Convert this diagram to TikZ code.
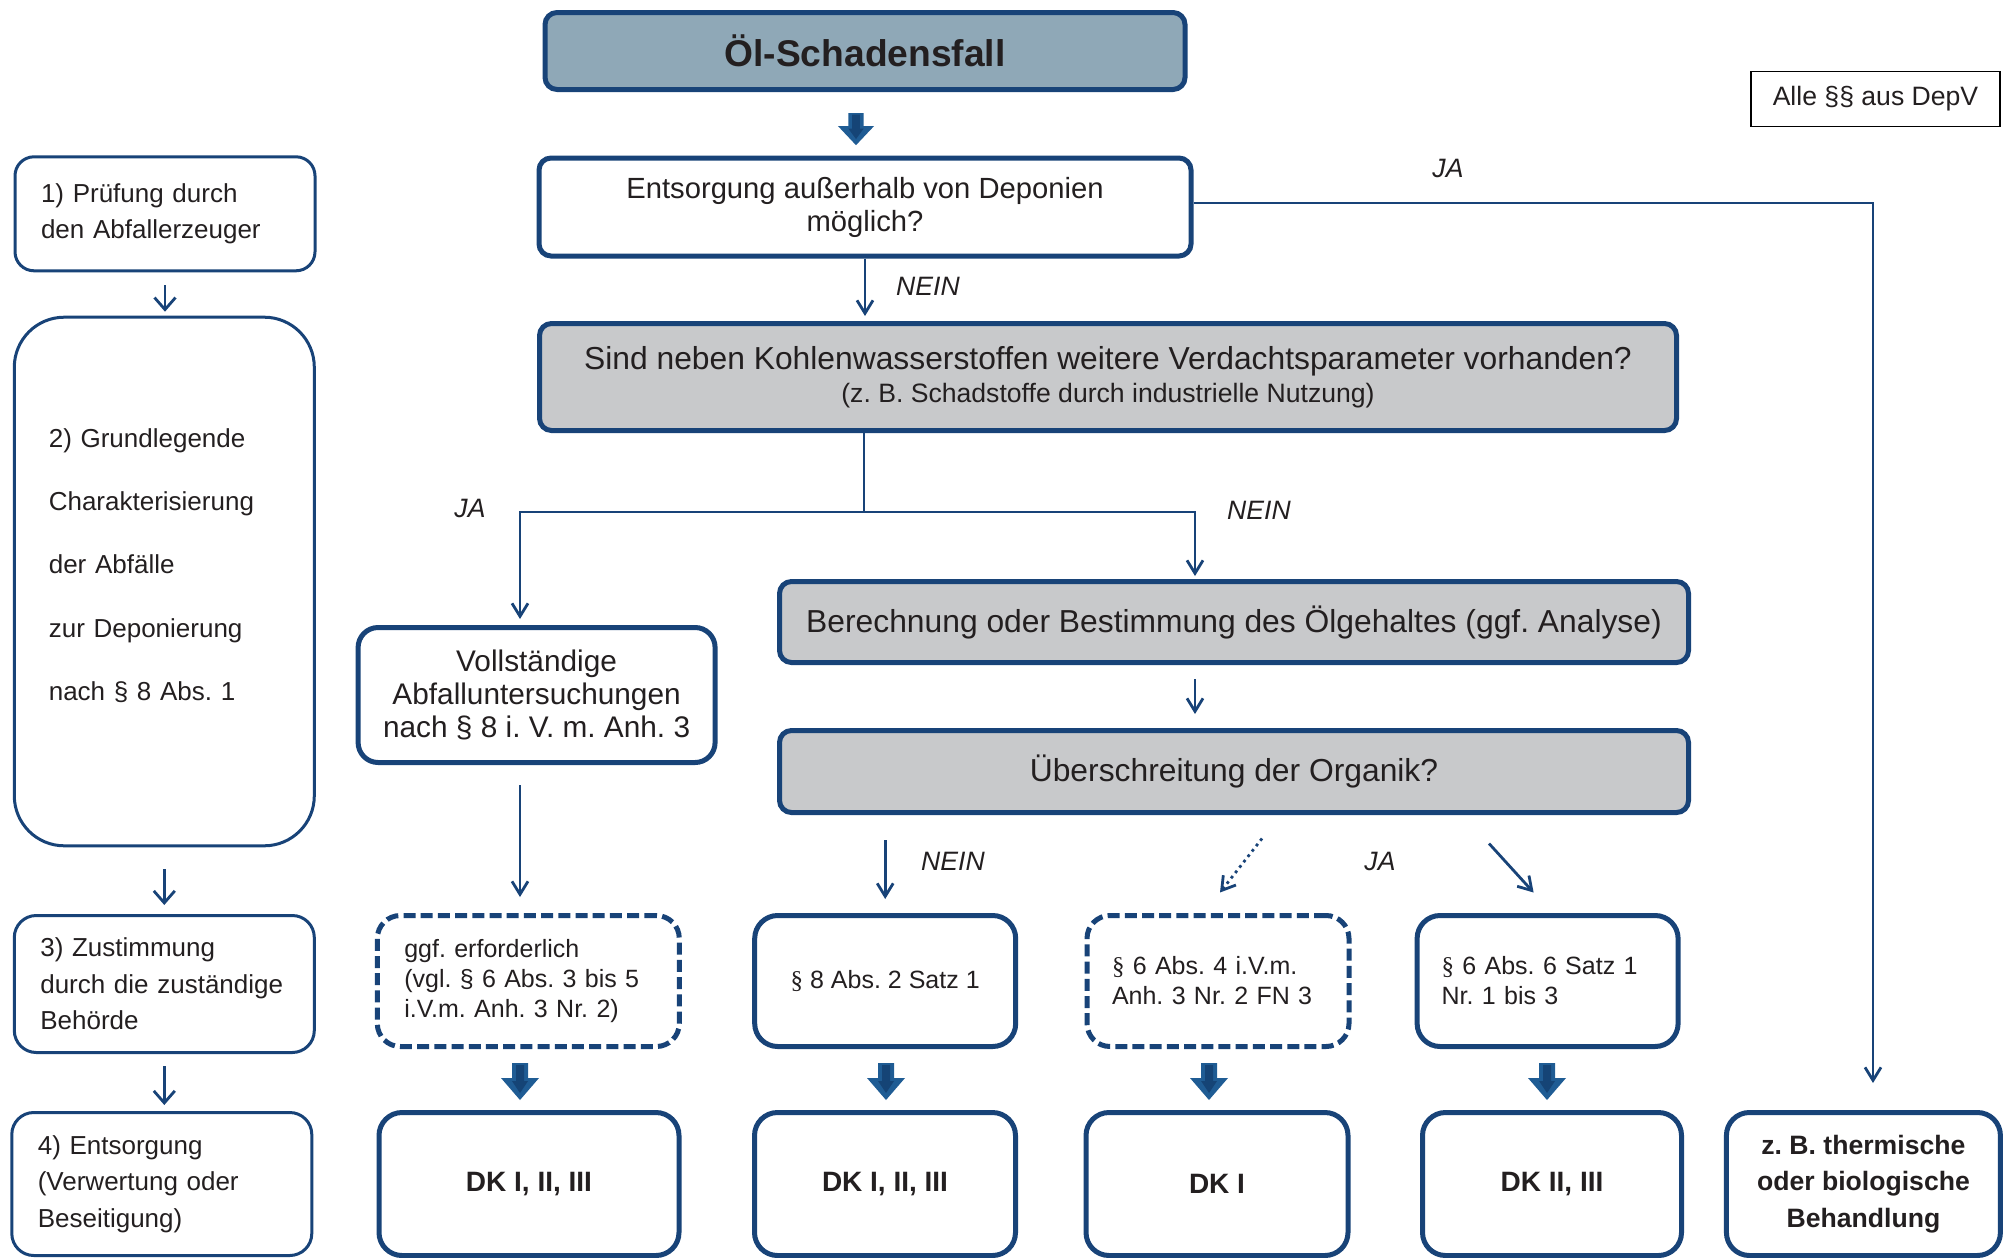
\documentclass[tikz,border=0pt]{standalone}
\usepackage{fontspec}
\setmainfont{Liberation Sans}
\newfontfamily\parafont{Liberation Serif}
\usetikzlibrary{arrows.meta,calc}

\definecolor{rand}{RGB}{24,67,120}
\definecolor{kopfgrau}{RGB}{143,168,183}
\definecolor{hellgrau}{RGB}{200,201,203}
\definecolor{schrift}{RGB}{35,31,32}
\definecolor{pfeilhell}{RGB}{31,92,148}
\definecolor{pfeildunkel}{RGB}{21,68,118}

\newcommand{\parsym}{{\parafont\S}}

\tikzset{
  box/.style={draw=rand, line width=2.5pt, rounded corners=6pt, align=center,
    inner sep=0pt, text=schrift},
  kopfbox/.style={box, fill=kopfgrau, font=\fontsize{18.6}{22}\selectfont\bfseries},
  fragebox/.style={box, font=\fontsize{14.6}{16.5}\selectfont},
  graubox/.style={box, fill=hellgrau, minimum width=454.5pt,
    font=\fontsize{15.9}{16.5}\selectfont},
  regelbox/.style={box, rounded corners=11.5pt, minimum width=130.5pt,
    minimum height=65.5pt, font=\fontsize{12.5}{15}\selectfont},
  optbox/.style={regelbox, dash pattern=on 6pt off 2.6pt},
  dkbox/.style={box, rounded corners=11.5pt, minimum width=130.5pt,
    minimum height=71.5pt, font=\fontsize{14}{17}\selectfont\bfseries},
  linksbox/.style={draw=rand, line width=1.5pt, minimum width=150pt, inner sep=0pt,
    text width=124pt, align=left, text=schrift, font=\fontsize{13}{18.3}\selectfont},
  antwort/.style={text=schrift, font=\fontsize{13.3}{16}\selectfont\itshape},
  verbinder/.style={draw=rand, line width=1.4pt, -{Straight Barb[length=6.5pt,width=8pt]}},
  linkspfeil/.style={draw=rand, line width=1.4pt, -{Straight Barb[length=6pt,width=10.5pt]}},
  dickpfeil/.pic={
    \fill[pfeilhell] (-8,0) -- (8,0) -- (8,15) -- (19,15) -- (0,37)
      -- (-19,15) -- (-8,15) -- cycle;
    \fill[pfeildunkel] (-4,2) -- (4,2) -- (4,18) -- (8,18) -- (0,30)
      -- (-8,18) -- (-4,18) -- cycle;
  }
}

\begin{document}
\frenchspacing
\begin{tikzpicture}[x=0.5pt, y=-0.5pt]
\useasboundingbox (0,0) rectangle (2013,1258);

% Hauptspalte
\node[kopfbox, minimum width=320pt, minimum height=38.5pt] (oel) at (865,51) {Öl-Schadensfall};
\node[fragebox, minimum width=326pt, minimum height=49pt] (entsorg) at (865,207)
  {Entsorgung außerhalb von Deponien\\möglich?};
\node[draw=black, line width=0.7pt, minimum width=124.5pt, minimum height=27.5pt,
  text=schrift, font=\fontsize{13.3}{16}\selectfont] (alle) at (1875.5,99) {Alle §§ aus DepV};
\node[graubox, minimum width=568.5pt, minimum height=53.5pt] (sind) at (1108,377)
  {Sind neben Kohlenwasserstoffen weitere Verdachtsparameter vorhanden?\\
   {\fontsize{13.3}{16}\selectfont(z. B. Schadstoffe durch industrielle Nutzung)}};
\node[box, minimum width=178.5pt, minimum height=67.5pt, rounded corners=10pt,
  font=\fontsize{14.9}{16.7}\selectfont] (voll) at (536.6,695)
  {Vollständige\\Abfalluntersuchungen\\nach § 8 i. V. m. Anh. 3};
\node[graubox, minimum height=40.5pt] (berech) at (1234,622)
  {Berechnung oder Bestimmung des Ölgehaltes (ggf. Analyse)};
\node[graubox, minimum height=41pt] (ueber) at (1234,771.5) {Überschreitung der Organik?};

% Regeln
\node[optbox, minimum width=151pt, text width=124pt, align=left] (ggf) at (528.3,981)
  {ggf. erforderlich\\(vgl. § 6 Abs. 3 bis 5\\i.V.m. Anh. 3 Nr. 2)};
\node[regelbox] (satz1) at (885.2,981) {\parsym\ 8 Abs. 2 Satz 1};
\node[optbox, minimum width=131pt, text width=106pt, align=left] (fn3) at (1218,981)
  {\parsym\ 6 Abs. 4 i.V.m.\\Anh. 3 Nr. 2 FN 3};
\node[regelbox, text width=106pt, align=left] (abs6) at (1547.6,981)
  {\parsym\ 6 Abs. 6 Satz 1\\Nr. 1 bis 3};

% Deponieklassen
\node[dkbox, minimum width=150pt] (dkalle) at (529,1184) {DK I, II, III};
\node[dkbox] (dkalleb) at (885,1184) {DK I, II, III};
\node[dkbox, minimum width=131pt] (dkeins) at (1217,1184) {DK I};
\node[dkbox, minimum width=129.5pt] (dkzwei) at (1552,1184) {DK II, III};
\node[dkbox, minimum width=137pt, font=\fontsize{13.3}{18.3}\selectfont\bfseries] (behandlung)
  at (1863.4,1184) {z. B. thermische\\oder biologische\\Behandlung};

% linke Spalte
\node[linksbox, minimum height=57pt, rounded corners=9.5pt] (pruefung) at (165,213.8)
  {1) Prüfung durch\\den Abfallerzeuger};
\node[linksbox, minimum height=264.3pt, rounded corners=25pt] (grundl) at (164.3,581.5) {};
\node[text width=115.5pt, align=left, text=schrift, inner sep=0pt,
  font=\fontsize{13}{31.7}\selectfont] (grundltext) at (164.3,565.5)
  {2) Grundlegende\\Charakterisierung\\der Abfälle\\zur Deponierung\\nach § 8 Abs. 1};
\node[linksbox, minimum height=68.5pt, rounded corners=11pt] (zustimmung) at (164.3,984)
  {3) Zustimmung\\durch die zuständige\\Behörde};
\node[linksbox, minimum height=71.5pt, rounded corners=11pt] (beseitigung) at (161.8,1184)
  {4) Entsorgung\\(Verwertung oder\\Beseitigung)};

% Antworten
\node[antwort] (jaoben) at (1448,168) {JA};
\node[antwort] (neinoben) at (928,286) {NEIN};
\node[antwort] (jalinks) at (470,508) {JA};
\node[antwort] (neinrechts) at (1259,510) {NEIN};
\node[antwort] (neinunten) at (953,861) {NEIN};
\node[antwort] (jaunten) at (1380,861) {JA};

% Verbindungen
\coordinate (jaecke) at (1873,203);
\coordinate (gabel) at (864,512);
\coordinate (jaknick) at (520,512);
\coordinate (neinknick) at (1195,512);
\draw[verbinder, shorten >=13.5pt] (entsorg.east |- jaecke) -- (jaecke) -- (jaecke |- behandlung.north);
\draw[verbinder, shorten >=2.5pt] (entsorg.south) -- (entsorg.south |- sind.north);
\draw[draw=rand, line width=1.4pt] (gabel |- sind.south) -- (gabel);
\draw[verbinder, shorten >=3pt] (gabel) -- (jaknick) -- (jaknick |- voll.north);
\draw[verbinder, shorten >=1.5pt] (gabel) -- (neinknick) -- (neinknick |- berech.north);
\draw[verbinder, shorten <=7pt, shorten >=7pt] (neinknick |- berech.south) -- (neinknick |- ueber.north);
\draw[verbinder, shorten <=10pt, shorten >=8pt] (jaknick |- voll.south) -- (jaknick |- ggf.north);
\draw[verbinder, shorten <=12.5pt, shorten >=7pt] (satz1.north |- ueber.south) -- (satz1.north);
\draw[verbinder, dotted] ($(ueber.south)+(28,23.5)$) -- ($(fn3.north)+(2,-20.5)$);
\draw[verbinder] ($(ueber.south)+(255,28.5)$) -- ($(abs6.north)+(-14,-20.5)$);

\draw[linkspfeil, shorten <=6.5pt, shorten >=2pt] (pruefung.south) -- (pruefung.south |- grundl.north);
\draw[linkspfeil, shorten <=11pt, shorten >=4.5pt] (grundl.south) -- (grundl.south |- zustimmung.north);
\draw[linkspfeil, shorten <=6pt, shorten >=3pt] (zustimmung.south) -- (zustimmung.south |- beseitigung.north);

% Blockpfeile
\pic[xscale=0.95, yscale=0.87] at (856,113) {dickpfeil};
\foreach \ax in {520,886,1209,1547}
  \pic at (\ax,1063) {dickpfeil};
\end{tikzpicture}
\end{document}
